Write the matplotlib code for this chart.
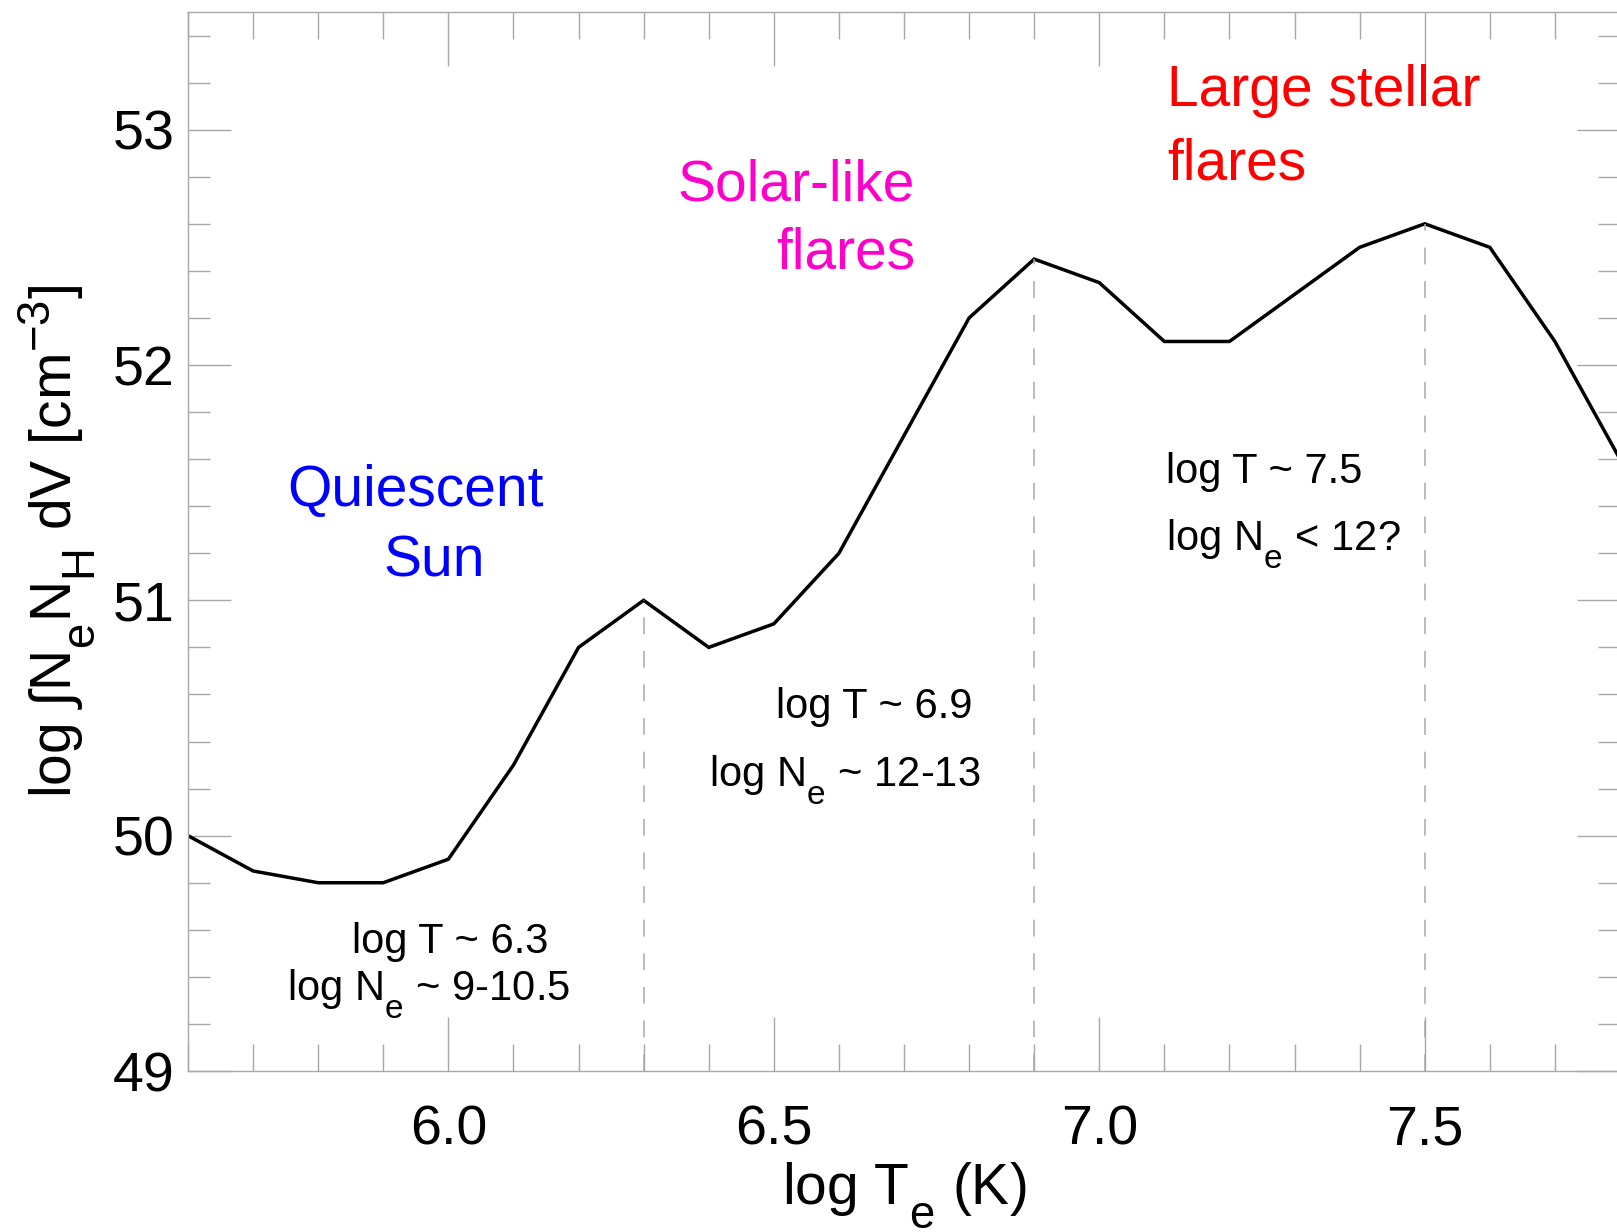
import numpy as np
import matplotlib
matplotlib.use("Agg")
import matplotlib.pyplot as plt
from matplotlib.ticker import MultipleLocator
import matplotlib._mathtext as mt

# DATA: emission measure distribution
log_t = [5.6, 5.7, 5.8, 5.9, 6.0, 6.1, 6.2, 6.3, 6.4, 6.5, 6.6, 6.7,
         6.8, 6.9, 7.0, 7.1, 7.2, 7.3, 7.4, 7.5, 7.6, 7.7, 7.8]
log_em = [50.0, 49.85, 49.8, 49.8, 49.9, 50.3, 50.8, 51.0, 50.8, 50.9, 51.2, 51.7,
          52.2, 52.45, 52.35, 52.1, 52.1, 52.3, 52.5, 52.6, 52.5, 52.1, 51.6]

# temperatures marked with dashed lines
peak_t = [6.3, 6.9, 7.5]

# region labels and their colours
region_lines = ["Quiescent", "Sun", "Solar-like", "flares", "Large stellar", "flares"]
region_colors = ["#0000ff", "#0000ff", "#ff00cc", "#ff00cc", "#ff0000", "#ff0000"]
region_pos = [(5.752, 51.40), (5.901, 51.10), (6.352, 52.70), (6.503, 52.41),
              (7.104, 53.10), (7.104, 52.79)]

# density notes
note_lines = [r"log T ~ 6.3", r"log N$_e$ ~ 9-10.5",
              r"log T ~ 6.9", r"log N$_e$ ~ 12-13",
              r"log T ~ 7.5", r"log N$_e$ < 12?"]
note_pos = [(5.852, 49.50), (5.752, 49.30), (6.503, 50.50), (6.400, 50.21),
            (7.102, 51.50), (7.102, 51.21)]

# FONT SETTINGS
plt.rcParams['font.family'] = ['Liberation Sans', 'DejaVu Sans']
plt.rcParams['mathtext.fontset'] = 'custom'
plt.rcParams['mathtext.rm'] = 'Liberation Sans'
plt.rcParams['mathtext.it'] = 'Liberation Sans'
plt.rcParams['mathtext.default'] = 'rm'

# IDL-like scripts: bigger and dropped further below the baseline
mt.SHRINK_FACTOR = 0.8
mt.FontConstantsBase.sub1 = 0.8
mt.FontConstantsBase.sub2 = 0.9

GREY = "#a8a8a8"

fig = plt.figure(figsize=(16.17, 12.32), dpi=100)
ax = fig.add_axes([188 / 1617, 161 / 1232, 1432 / 1617, 1059 / 1232])

# PLOT THE DATA
ax.plot(log_t, log_em, color="black", lw=2.5, solid_joinstyle="miter")

# dashed lines from the curve down to the bottom axis
for t in peak_t:
    y_top = log_em[log_t.index(t)]
    ax.vlines(t, 49.0, y_top, colors=GREY, linestyles=(0, (11, 11)), lw=1.1)

for txt, col, (x, y) in zip(region_lines, region_colors, region_pos):
    ax.text(x, y, txt, color=col, fontsize=41, ha="left", va="baseline")

for txt, (x, y) in zip(note_lines, note_pos):
    ax.text(x, y, txt, color="black", fontsize=30, ha="left", va="baseline")

# AXES
ax.set_xlim(5.6, 7.8)
ax.set_ylim(49.0, 53.5)
ax.xaxis.set_major_locator(MultipleLocator(0.5))
ax.xaxis.set_minor_locator(MultipleLocator(0.1))
ax.yaxis.set_major_locator(MultipleLocator(1))
ax.yaxis.set_minor_locator(MultipleLocator(0.2))
ax.set_xticks([6.0, 6.5, 7.0, 7.5])
ax.set_xticklabels(["6.0", "6.5", "7.0", "7.5"])
ax.set_yticks([49, 50, 51, 52, 53])

ax.tick_params(axis="both", which="both", direction="in", top=True, right=True,
               color=GREY, width=1.0, labelsize=40)
ax.tick_params(axis="x", which="major", length=39, pad=24)
ax.tick_params(axis="x", which="minor", length=19.5)
ax.tick_params(axis="y", which="major", length=31, pad=10)
ax.tick_params(axis="y", which="minor", length=16)

for sp in ax.spines.values():
    sp.set_color(GREY)
    sp.set_linewidth(1.0)

ax.set_xlabel(r"log T$_e$ (K)", fontsize=41, labelpad=3)
ax.set_ylabel(r"log $\int$N$_e$N$_H$ dV [cm$^{-3}$]", fontsize=41, labelpad=10)

fig.savefig("out.png", dpi=100)
